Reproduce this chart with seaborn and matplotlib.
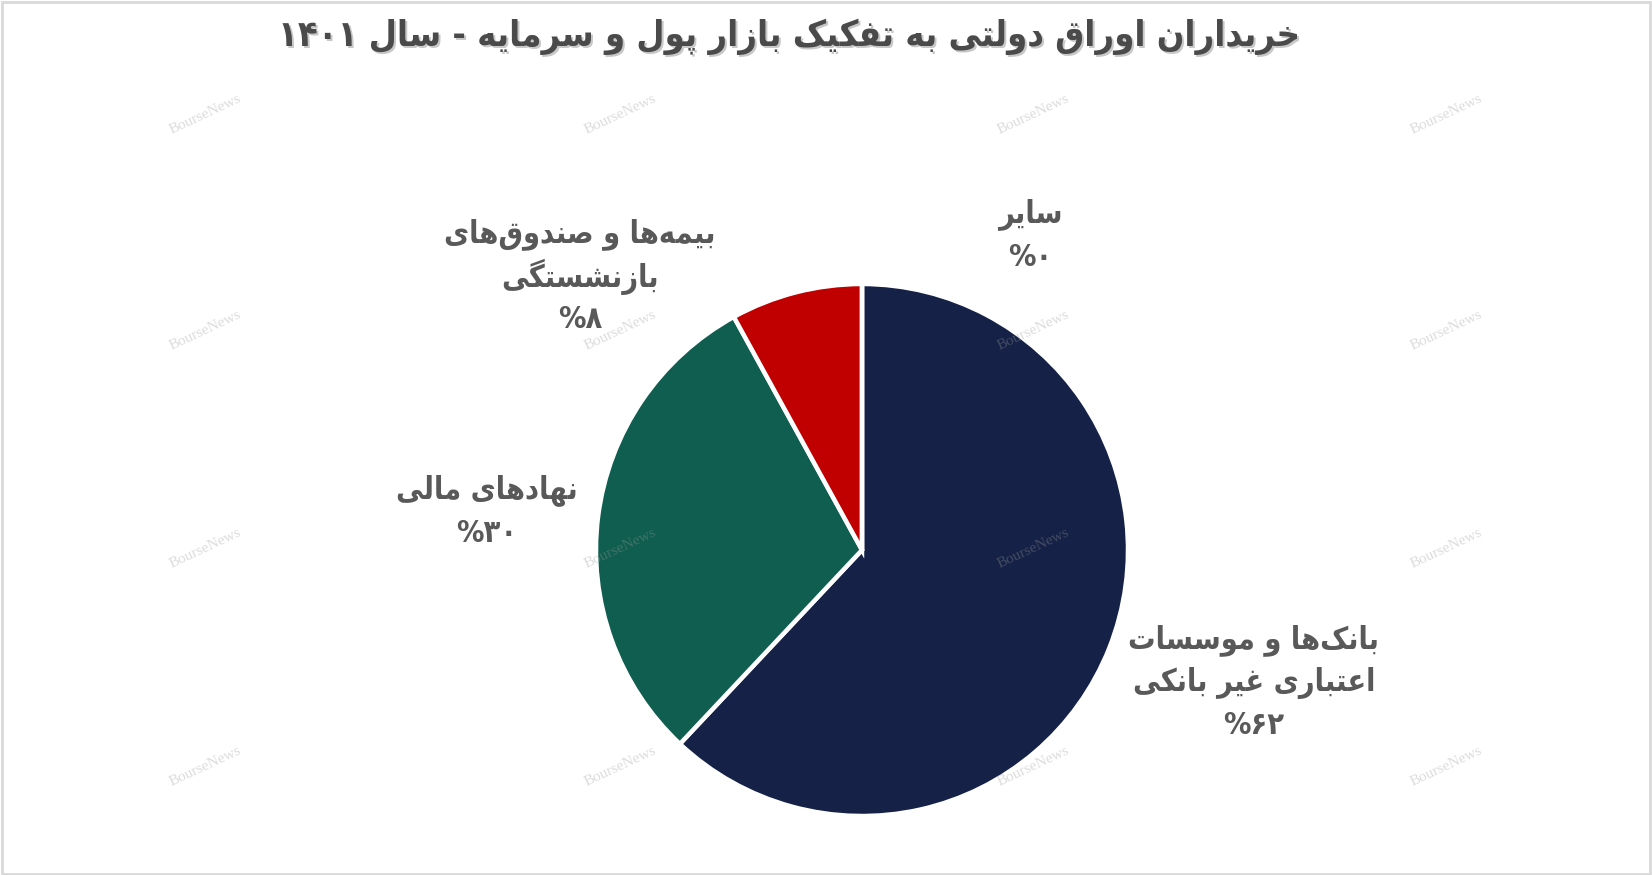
import matplotlib
matplotlib.use("Agg")
import matplotlib.pyplot as plt
import seaborn as sns
from matplotlib.patches import Rectangle

# ─── Data ────────────────────────────────────────────────────────────────────
title = "خریداران اوراق دولتی به تفکیک بازار پول و سرمایه - سال ۱۴۰۱"
categories = [
    "بانک‌ها و موسسات\nاعتباری غیر بانکی",
    "نهادهای مالی",
    "بیمه‌ها و صندوق‌های\nبازنشستگی",
    "سایر",
]
shares = [62, 30, 8, 0]
colors = ["#152146", "#0F5E4F", "#C00000", "#7F7F7F"]

# label anchor (pixel centre of first line), per category
label_pos = [(1254, 640), (487, 490), (580, 234), (1030, 214)]

# ─── Minimal Persian shaping (no arabic_reshaper available) ──────────────────
FORMS = {  # isolated, final, initial, medial
    "ا": ("\uFE8D", "\uFE8E", None, None),
    "ب": ("\uFE8F", "\uFE90", "\uFE91", "\uFE92"),
    "پ": ("\uFB56", "\uFB57", "\uFB58", "\uFB59"),
    "ت": ("\uFE95", "\uFE96", "\uFE97", "\uFE98"),
    "خ": ("\uFEA5", "\uFEA6", "\uFEA7", "\uFEA8"),
    "د": ("\uFEA9", "\uFEAA", None, None),
    "ر": ("\uFEAD", "\uFEAE", None, None),
    "ز": ("\uFEAF", "\uFEB0", None, None),
    "س": ("\uFEB1", "\uFEB2", "\uFEB3", "\uFEB4"),
    "ش": ("\uFEB5", "\uFEB6", "\uFEB7", "\uFEB8"),
    "ص": ("\uFEB9", "\uFEBA", "\uFEBB", "\uFEBC"),
    "ع": ("\uFEC9", "\uFECA", "\uFECB", "\uFECC"),
    "غ": ("\uFECD", "\uFECE", "\uFECF", "\uFED0"),
    "ف": ("\uFED1", "\uFED2", "\uFED3", "\uFED4"),
    "ق": ("\uFED5", "\uFED6", "\uFED7", "\uFED8"),
    "ک": ("\uFB8E", "\uFB8F", "\uFB90", "\uFB91"),
    "گ": ("\uFB92", "\uFB93", "\uFB94", "\uFB95"),
    "ل": ("\uFEDD", "\uFEDE", "\uFEDF", "\uFEE0"),
    "م": ("\uFEE1", "\uFEE2", "\uFEE3", "\uFEE4"),
    "ن": ("\uFEE5", "\uFEE6", "\uFEE7", "\uFEE8"),
    "و": ("\uFEED", "\uFEEE", None, None),
    "ه": ("\uFEE9", "\uFEEA", "\uFEEB", "\uFEEC"),
    "ی": ("\uFBFC", "\uFBFD", "\uFBFE", "\uFBFF"),
}
DIGITS = "۰۱۲۳۴۵۶۷۸۹"


def fa_num(n):
    return "".join(DIGITS[int(c)] for c in str(n))


def shape_line(s):
    out = []
    for i, ch in enumerate(s):
        if ch not in FORMS:
            if ch != "\u200c":
                out.append(ch)
            continue
        prev = s[i - 1] if i > 0 else ""
        nxt = s[i + 1] if i + 1 < len(s) else ""
        pj = prev in FORMS and FORMS[prev][2] is not None
        nj = FORMS[ch][2] is not None and nxt in FORMS
        iso, fin, ini, med = FORMS[ch]
        if pj and nj:
            out.append(med)
        elif pj:
            out.append(fin)
        elif nj:
            out.append(ini)
        else:
            out.append(iso)
    vis = "".join(out)[::-1]
    # keep digit runs left-to-right
    res, run = [], []
    for ch in vis:
        if ch in DIGITS:
            run.append(ch)
        else:
            res.extend(run[::-1])
            run = []
            res.append(ch)
    res.extend(run[::-1])
    return "".join(res)


# ─── Figure ──────────────────────────────────────────────────────────────────
sns.set_theme(style="white")
plt.rcParams["font.family"] = ["DejaVu Sans"]

W, H = 1652, 875
fig = plt.figure(figsize=(W / 100, H / 100), dpi=100)
ax = fig.add_axes([0, 0, 1, 1])

pal = sns.color_palette(colors)
ax.pie(
    shares,
    colors=pal,
    startangle=90,
    counterclock=False,
    center=(862, H - 550),
    radius=266,
    frame=True,
    wedgeprops=dict(edgecolor="white", linewidth=3.2),
)
ax.set_xlim(0, W)
ax.set_ylim(0, H)
ax.set_aspect("equal")
ax.axis("off")

txt_color = "#595959"
title_vis = shape_line(title)
ax.text(789 + 2, H - 37 - 2, title_vis, ha="center", va="center", fontsize=26,
        fontweight="bold", fontstretch="condensed", color="#c8c8c8", zorder=4)
ax.text(789, H - 37, title_vis, ha="center", va="center", fontsize=26,
        fontweight="bold", fontstretch="condensed", color="#4a4a4a", zorder=5)

for cat, val, (x, y) in zip(categories, shares, label_pos):
    lines = cat.split("\n") + [f"{fa_num(val)}%"]
    for k, line in enumerate(lines):
        ax.text(x, H - (y + 43 * k), shape_line(line), ha="center", va="center",
                fontsize=22, fontweight="bold", fontstretch="condensed",
                color=txt_color, zorder=5)

# watermark
for wx in [205, 620, 1033, 1446]:
    for wy in [114, 330, 548, 766]:
        ax.text(wx, H - wy, "BourseNews", ha="center", va="center",
                fontsize=11, family="Liberation Serif", color="#9a9a9a",
                alpha=0.35, rotation=25, zorder=6)

fig.patches.append(Rectangle((0.001, 0.001), 0.998, 0.997, transform=fig.transFigure,
                             fill=False, edgecolor="#d9d9d9", linewidth=2))

fig.savefig("out.png", dpi=100, facecolor="white")
